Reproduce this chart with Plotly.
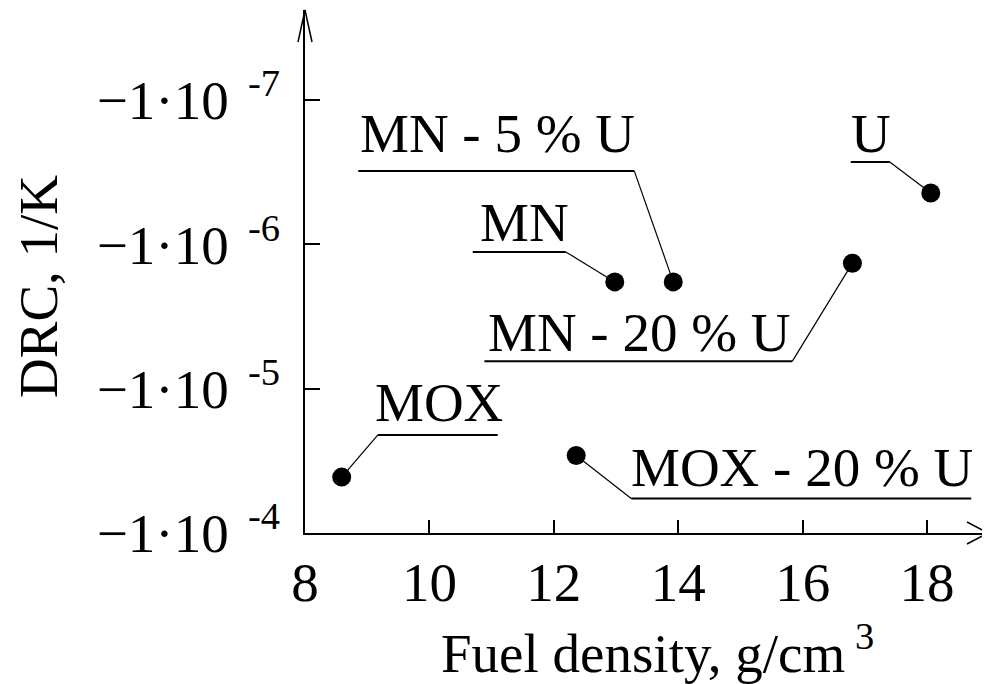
import numpy as np
import plotly.graph_objects as go

# ---- data ----
fuels = ["MOX", "MOX - 20 % U", "MN", "MN - 5 % U", "MN - 20 % U", "U"]
density = [8.59, 12.36, 12.98, 13.92, 16.80, 18.06]          # g/cm3
drc = [-4.1e-5, -2.9e-5, -1.82e-6, -1.82e-6, -1.35e-6, -4.4e-7]  # 1/K

x_tick_vals = [8, 10, 12, 14, 16, 18]
y_tick_vals = [-1e-7, -1e-6, -1e-5, -1e-4]
y_tick_exps = ["-7", "-6", "-5", "-4"]

x_title = "Fuel density, g/cm<sup>\u00a03</sup>"
y_title = "DRC, 1/K"

# ---- label placement (pixel offsets from each point; y up) ----
label_text_shift = [(97, 75), (226, -12), (-90, 59), (-176, 148), (-213, -69), (-60, 59)]
label_elbow = [(36, 42), (55, -43), (-49, 30), (-39, 111), (-60, -98), (-41, 31)]
label_line_end = [156, 395, -142, -315, -368, -80]

FONT = "Liberation Serif, Times New Roman, serif"
FS = 55

mag = [abs(v) for v in drc]

fig = go.Figure()
fig.add_trace(go.Scatter(
    x=density, y=mag, mode="markers",
    marker=dict(size=19, color="black"),
    cliponaxis=False, hoverinfo="skip", showlegend=False,
))

shapes = []
annotations = []
for i, name in enumerate(fuels):
    ex, ey = label_elbow[i]
    shapes.append(dict(
        type="path", xref="x", yref="y",
        xsizemode="pixel", ysizemode="pixel",
        xanchor=density[i], yanchor=mag[i],
        path=f"M 0,0 L {ex},{ey}",
        line=dict(color="black", width=1.2), layer="below",
    ))
    shapes.append(dict(
        type="path", xref="x", yref="y",
        xsizemode="pixel", ysizemode="pixel",
        xanchor=density[i], yanchor=mag[i],
        path=f"M {ex},{ey} L {label_line_end[i]},{ey}",
        line=dict(color="black", width=2), layer="below",
    ))
    dx, dy = label_text_shift[i]
    annotations.append(dict(
        x=density[i], y=float(np.log10(mag[i])), xref="x", yref="y",
        text=name, showarrow=False, xanchor="center", yanchor="middle",
        xshift=dx, yshift=dy,
        font=dict(family=FONT, size=FS, color="black"),
    ))

# axis arrows
shapes.append(dict(
    type="path", xref="paper", yref="paper",
    xsizemode="pixel", ysizemode="pixel", xanchor=0, yanchor=1,
    path="M -7,-32 L 0,0 L 7,-32", line=dict(color="black", width=1.5),
))
shapes.append(dict(
    type="path", xref="paper", yref="paper",
    xsizemode="pixel", ysizemode="pixel", xanchor=1, yanchor=0,
    path="M -21,11 L 0,0 L -21,-11", line=dict(color="black", width=1.5),
))

# axis titles
annotations.append(dict(
    x=0, y=0, xref="paper", yref="paper", xshift=352, yshift=-116,
    text=x_title, showarrow=False, xanchor="center", yanchor="middle",
    borderpad=0, font=dict(family=FONT, size=FS, color="black"),
))
annotations.append(dict(
    x=0, y=0, xref="paper", yref="paper", xshift=-267, yshift=246,
    text=y_title, showarrow=False, xanchor="center", yanchor="middle",
    textangle=-90, font=dict(family=FONT, size=FS, color="black"),
))

y_tick_text = [f"\u22121\u00b710<sup>\u00a0\u00a0{e}</sup>" for e in y_tick_exps]

# the page body adds an 8 px offset; margins compensate for it
fig.update_layout(
    width=990, height=684,
    margin=dict(l=297, r=10, t=2, b=159),
    paper_bgcolor="white", plot_bgcolor="white",
    font=dict(family=FONT, size=FS, color="black"),
    shapes=shapes, annotations=annotations,
    xaxis=dict(
        range=[8, 18.98], tickvals=x_tick_vals,
        ticks="inside", ticklen=13, tickwidth=2, tickcolor="black",
        showline=True, linewidth=2, linecolor="black",
        showgrid=False, zeroline=False,
        tickfont=dict(family=FONT, size=FS, color="black"),
        ticklabelstandoff=0,
    ),
    yaxis=dict(
        type="log", range=[-4, -7.624],
        tickvals=[abs(v) for v in y_tick_vals], ticktext=y_tick_text,
        ticks="inside", ticklen=15, tickwidth=2, tickcolor="black",
        showline=True, linewidth=2, linecolor="black",
        showgrid=False, zeroline=False,
        tickfont=dict(family=FONT, size=FS, color="black"),
        ticklabelstandoff=12,
    ),
)

fig.write_html("out.html")
